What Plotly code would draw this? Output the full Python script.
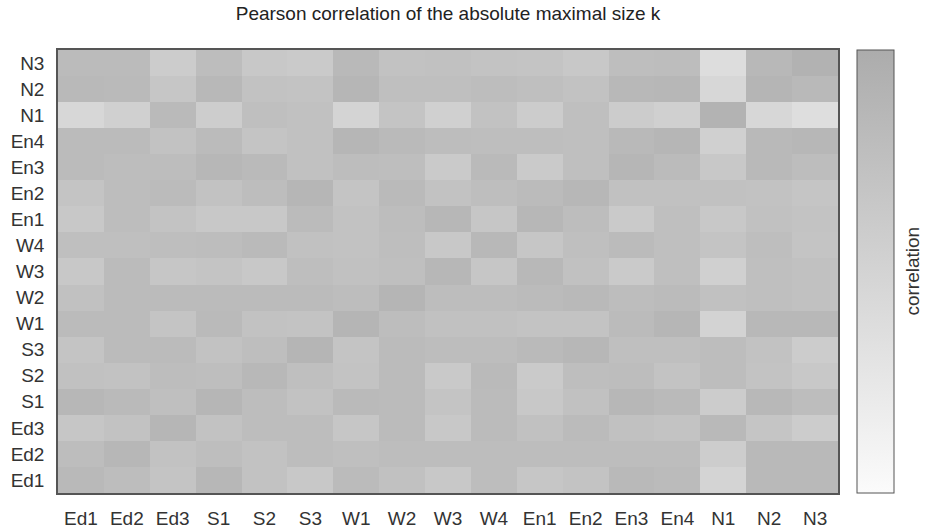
import plotly.graph_objects as go

labels = ["Ed1", "Ed2", "Ed3", "S1", "S2", "S3", "W1", "W2", "W3", "W4",
          "En1", "En2", "En3", "En4", "N1", "N2", "N3"]

# rows listed bottom (Ed1) to top (N3); columns Ed1..N3
row_Ed1 = [.83, .78, .69, .86, .72, .65, .81, .74, .65, .78, .67, .71, .83, .81, .49, .83, .83]
row_Ed2 = [.78, .86, .72, .77, .72, .78, .76, .78, .78, .78, .79, .79, .79, .79, .58, .83, .83]
row_Ed3 = [.67, .72, .87, .72, .79, .79, .67, .81, .65, .81, .73, .81, .74, .71, .83, .68, .60]
row_S1 = [.86, .82, .76, .87, .78, .72, .82, .81, .69, .81, .64, .73, .86, .82, .60, .85, .79]
row_S2 = [.73, .72, .79, .77, .85, .76, .71, .81, .63, .82, .62, .77, .79, .71, .78, .71, .64]
row_S3 = [.69, .81, .81, .72, .77, .88, .69, .81, .78, .78, .82, .86, .76, .76, .79, .72, .59]
row_W1 = [.81, .81, .69, .82, .72, .71, .88, .79, .74, .73, .71, .71, .81, .87, .51, .85, .85]
row_W2 = [.74, .81, .81, .81, .81, .81, .78, .88, .79, .78, .81, .83, .78, .81, .74, .76, .74]
row_W3 = [.64, .81, .67, .69, .64, .77, .73, .76, .86, .67, .85, .73, .62, .76, .55, .76, .73]
row_W4 = [.76, .76, .77, .78, .82, .74, .72, .77, .64, .85, .67, .76, .81, .76, .69, .77, .69]
row_En1 = [.64, .78, .71, .65, .65, .81, .72, .78, .86, .67, .86, .78, .62, .76, .64, .74, .71]
row_En2 = [.69, .78, .81, .72, .79, .87, .69, .82, .72, .77, .81, .86, .74, .74, .74, .72, .68]
row_En3 = [.81, .78, .78, .86, .82, .73, .78, .77, .62, .82, .62, .76, .87, .81, .64, .83, .79]
row_En4 = [.81, .81, .72, .81, .69, .74, .87, .82, .78, .77, .77, .76, .83, .87, .55, .83, .86]
row_N1 = [.46, .55, .82, .58, .76, .74, .50, .69, .55, .72, .60, .76, .60, .54, .91, .46, .37]
row_N2 = [.83, .82, .67, .85, .72, .71, .87, .76, .76, .78, .76, .72, .85, .86, .46, .88, .83]
row_N3 = [.81, .81, .60, .79, .64, .62, .83, .72, .74, .71, .69, .64, .77, .79, .38, .85, .92]

z = [row_Ed1, row_Ed2, row_Ed3, row_S1, row_S2, row_S3, row_W1, row_W2, row_W3,
     row_W4, row_En1, row_En2, row_En3, row_En4, row_N1, row_N2, row_N3]

font_family = "Liberation Sans, Arial, sans-serif"
FS = 19

fig = go.Figure(go.Heatmap(
    z=z, x=labels, y=labels,
    zmin=0, zmax=1,
    colorscale=[[0, "rgb(251,251,251)"], [1, "rgb(172,172,172)"]],
    colorbar=dict(
        showticklabels=False, ticks="",
        thickness=37, thicknessmode="pixels",
        len=1, lenmode="fraction", y=0.5, yanchor="middle",
        x=1.0245, xanchor="left", xpad=0, ypad=0,
        outlinecolor="#555", outlinewidth=1,
    ),
    hoverongaps=False,
))

fig.add_annotation(text="correlation", textangle=-90,
                   x=1.0949, y=0.5, xref="paper", yref="paper",
                   xanchor="center", yanchor="middle", showarrow=False,
                   font=dict(family=font_family, size=FS, color="#333"))

fig.update_layout(
    width=926, height=531,
    margin=dict(l=58, r=88, t=50, b=38),
    paper_bgcolor="white", plot_bgcolor="white",
    title=dict(text="Pearson correlation of the absolute maximal size k",
               x=0.4838, xanchor="center", xref="container",
               y=0.987, yanchor="top", yref="container",
               font=dict(family=font_family, size=FS, color="#222")),
    font=dict(family=font_family, size=FS, color="#333"),
)
fig.update_xaxes(showline=True, mirror=True, linecolor="#555", linewidth=1.5,
                 ticks="", ticklabelstandoff=7, showgrid=False, zeroline=False,
                 automargin=False, tickangle=0,
                 tickfont=dict(size=FS, color="#333"))
fig.update_yaxes(showline=True, mirror=True, linecolor="#555", linewidth=1.5,
                 ticks="", ticklabelstandoff=8, showgrid=False, zeroline=False,
                 automargin=False,
                 tickfont=dict(size=FS, color="#333"))

fig.write_html("out.html")
